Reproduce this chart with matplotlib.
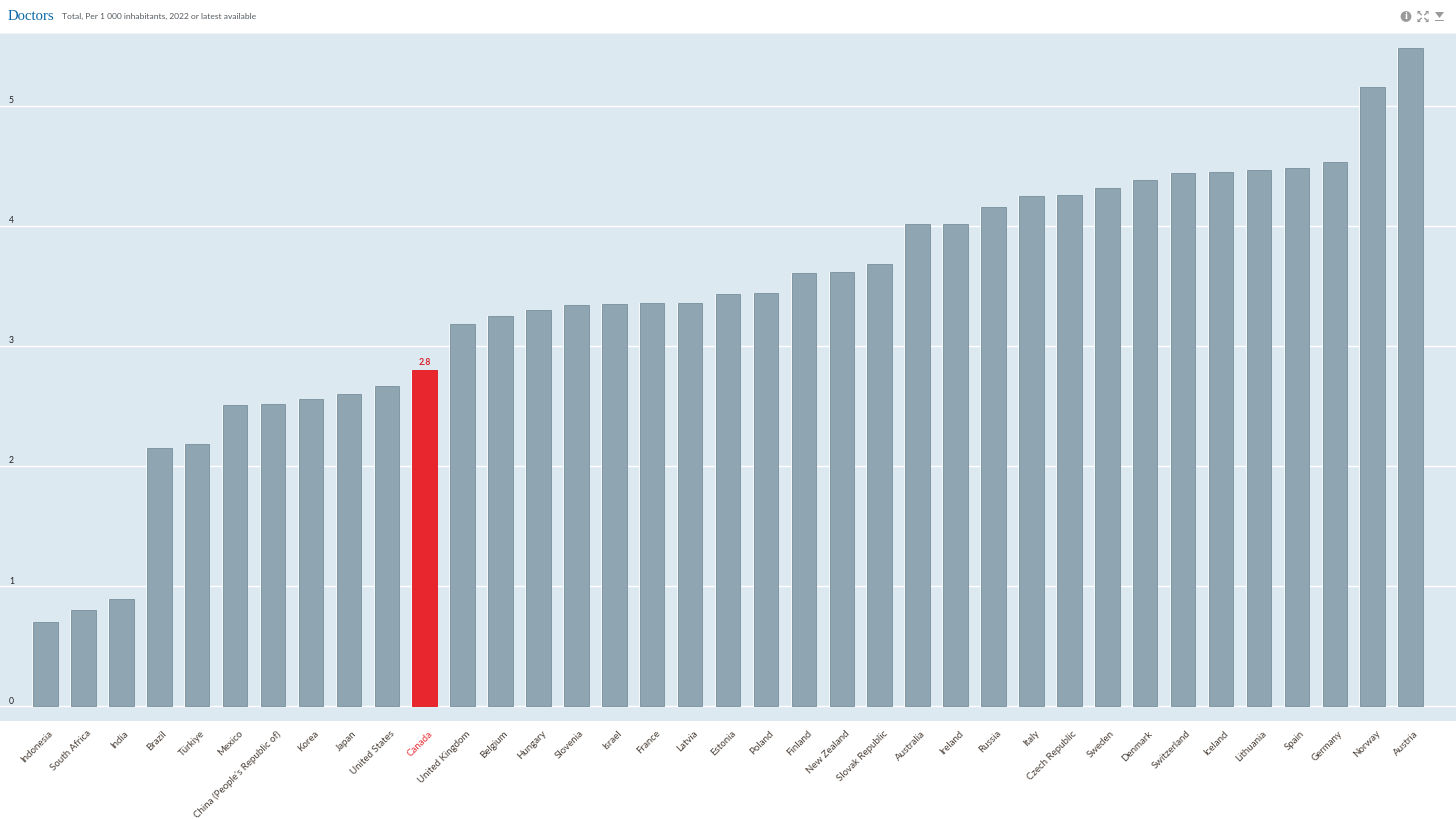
import matplotlib
matplotlib.use('Agg')
import matplotlib.pyplot as plt
from matplotlib.patches import Circle, Rectangle, Polygon

countries = ['Indonesia', 'South Africa', 'India', 'Brazil', 'Türkiye', 'Mexico',
             "China (People's Republic of)", 'Korea', 'Japan', 'United States', 'Canada',
             'United Kingdom', 'Belgium', 'Hungary', 'Slovenia', 'Israel', 'France', 'Latvia',
             'Estonia', 'Poland', 'Finland', 'New Zealand', 'Slovak Republic', 'Australia',
             'Ireland', 'Russia', 'Italy', 'Czech Republic', 'Sweden', 'Denmark', 'Switzerland',
             'Iceland', 'Lithuania', 'Spain', 'Germany', 'Norway', 'Austria']
values = [0.70, 0.80, 0.89, 2.15, 2.18, 2.51, 2.52, 2.56, 2.60, 2.67, 2.80,
          3.18, 3.25, 3.30, 3.34, 3.35, 3.36, 3.36, 3.43, 3.44, 3.61, 3.62, 3.68, 4.02,
          4.02, 4.16, 4.25, 4.26, 4.32, 4.38, 4.44, 4.45, 4.47, 4.48, 4.53, 5.16, 5.48]
y_ticks = [0, 1, 2, 3, 4, 5]
highlight = 'Canada'
highlight_label = '2.8'

W, H = 1456, 819
BG = '#dde9f1'
GREY = '#8fa5b2'
RED = '#e8262d'

plt.rcParams['font.family'] = ['Lato', 'DejaVu Sans']
fig = plt.figure(figsize=(W / 100, H / 100), dpi=100, facecolor='white')
ax = fig.add_axes([0, 1 - 721 / H, 1, (721 - 34) / H])
ax.set_facecolor(BG)

# pixel layout of the original: first bar at 45.5, bars 37.92 apart, 120 px per unit
step = 37.92
ax.set_xlim(-45.5 / step, (W - 45.5) / step)
ax.set_ylim(-15 / 120, 672 / 120)
for s in ax.spines.values():
    s.set_visible(False)
ax.set_xticks([])
ax.set_yticks([])

for t in y_ticks:
    ax.axhline(t, color='white', lw=1, zorder=1)
    ax.annotate(str(t), (0, t), xycoords=('axes fraction', 'data'), xytext=(9, 5),
                textcoords='offset pixels', fontsize=6.2, color='#222222', va='center', ha='left')

x = list(range(len(countries)))
colors = [RED if c == highlight else GREY for c in countries]
edges = ['#e0242c' if c == highlight else '#7f97a4' for c in countries]
ax.bar(x, values, width=26.5 / step, color='white', alpha=0.7, zorder=2)
ax.bar(x, values, width=24.5 / step, color=colors, edgecolor=edges, linewidth=0.7, zorder=3)

for i, c in enumerate(countries):
    color = '#e8303a' if c == highlight else '#4a4038'
    ax.annotate(c, (i, 0), xycoords=('data', 'axes fraction'), xytext=(3, -8),
                textcoords='offset pixels', rotation=45, rotation_mode='anchor',
                ha='right', va='top', fontsize=7.0, color=color, annotation_clip=False)
    if c == highlight:
        ax.annotate(highlight_label, (i, values[i]), xytext=(0, 3), textcoords='offset pixels',
                    ha='center', va='bottom', fontsize=6.3, color='#d8202a', fontweight='bold', zorder=4)

# header
fig.text(8 / W, 1 - 16.5 / H, 'Doctors', family=['Liberation Serif'], fontsize=10.6,
         color='#0a68a8', va='center', ha='left')
fig.text(62 / W, 1 - 16.5 / H, 'Total, Per 1 000 inhabitants, 2022 or latest available',
         fontsize=6.1, color='#555b60', va='center', ha='left')
fig.add_artist(Rectangle((0, 1 - 34 / H), 1, 1 / H, transform=fig.transFigure, color='#eef3f6', lw=0))

# header icons, drawn in pixel coordinates
icons = fig.add_axes([0, 0, 1, 1], facecolor='none')
icons.set_xlim(0, W)
icons.set_ylim(H, 0)
icons.axis('off')
ICON = '#9a9a9a'
icons.add_patch(Circle((1406, 16.5), 5.4, color=ICON, lw=0))
icons.text(1406, 16.7, 'i', family=['Liberation Serif'], fontsize=7.5, fontweight='bold', color='white',
           ha='center', va='center')
for sx, sy in [(-1, -1), (1, -1), (-1, 1), (1, 1)]:
    cx, cy = 1423 + sx * 3.6, 16.5 + sy * 3.6
    icons.add_patch(Polygon([(cx + sx * 2, cy + sy * 2), (cx - sx * 1.5, cy + sy * 2), (cx + sx * 2, cy - sy * 1.5)],
                            color=ICON, lw=0))
    icons.plot([cx, cx - sx * 1.8], [cy, cy - sy * 1.8], color=ICON, lw=1)
icons.add_patch(Polygon([(1435, 12), (1444, 12), (1439.5, 18)], color=ICON, lw=0))
icons.add_patch(Rectangle((1435, 20), 9, 1.4, color=ICON, lw=0))

fig.savefig('out.png', dpi=100, facecolor='white')
